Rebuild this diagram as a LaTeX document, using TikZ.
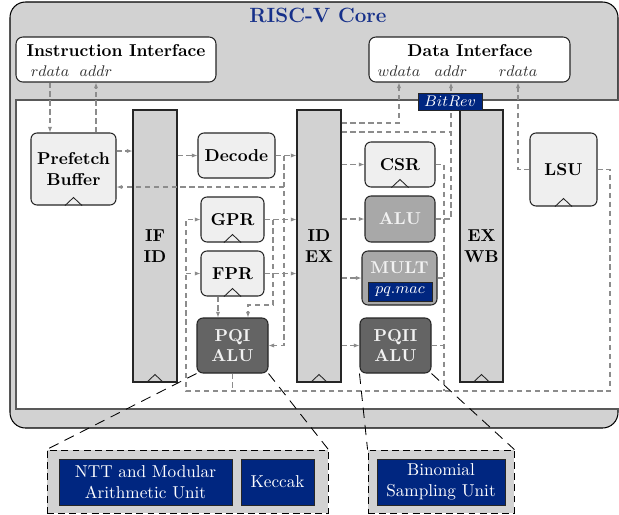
\documentclass[tikz,border=0pt]{standalone}
\usetikzlibrary{arrows.meta}
\definecolor{coregray}{RGB}{210,210,210}
\definecolor{lightbox}{RGB}{239,239,239}
\definecolor{midbox}{RGB}{168,168,168}
\definecolor{darkbox}{RGB}{100,100,100}
\definecolor{pqblue}{RGB}{0,38,128}
\definecolor{titleblue}{RGB}{22,48,138}
\definecolor{wiregray}{RGB}{140,140,140}
\begin{document}
\begin{tikzpicture}[x=0.5814pt,y=-0.5814pt,
  sz/.style 2 args={minimum width={(#1)*0.5814pt}, minimum height={(#2)*0.5814pt}},
  comp/.style={draw=black!85, line width=0.6pt, rounded corners=3.5pt, inner sep=0pt, align=center, font=\bfseries},
  light/.style={comp, fill=lightbox},
  mid/.style={comp, fill=midbox, text=white!95!black},
  dark/.style={comp, fill=darkbox, text=white!95!black},
  preg/.style={draw=black!85, line width=0.6pt, fill=coregray, inner sep=0pt, align=center, font=\bfseries},
  iface/.style={draw=black!85, line width=0.6pt, fill=white, rounded corners=4pt, inner sep=0pt},
  hwblk/.style={draw=black!85, line width=0.5pt, fill=pqblue, text=white, inner sep=0pt, align=center},
  group/.style={draw=black, line width=0.5pt, dash pattern=on 4pt off 2.5pt, fill=coregray, inner sep=0pt},
  wire/.style={draw=wiregray, line width=0.6pt, dash pattern=on 3pt off 2.2pt},
  arr/.style={wire, -{Latex[length=3.3pt,width=2.5pt]}},
  zoomline/.style={draw=black, line width=0.5pt, dash pattern=on 6pt off 4pt},
  clk/.style={draw=black!85, line width=0.5pt},
  sig/.style={font=\small, text=black!80, anchor=base, inner sep=0pt},
]
\useasboundingbox (0,0) rectangle (619,514);

% core frame and pipeline area
\node[draw=black, line width=0.6pt, fill=coregray, rounded corners=9pt, inner sep=0pt, sz={608}{426}] (core) at (314,215) {};
\node[font=\large\bfseries, text=titleblue] (title) at (318,15) {RISC-V Core};
\node[draw=black!65, line width=0.9pt, fill=white, inner sep=0pt, sz={624}{309}] (inner) at (328,254.5) {};

% memory interfaces
\node[iface, sz={200}{45}] (ii) at (116,59.5) {};
\node[font=\bfseries] (iit) at (116,51) {Instruction Interface};
\node[sig] (irdata) at (50,76) {$rdata$};
\node[sig] (iaddr) at (96,76) {$addr$};
\node[iface, sz={201}{45}] (di) at (469.5,59.5) {};
\node[font=\bfseries] (dit) at (470,51) {Data Interface};
\node[sig] (dwdata) at (399,76) {$wdata$};
\node[sig] (daddr) at (451,76) {$addr$};
\node[sig] (drdata) at (518,76) {$rdata$};

% pipeline registers
\node[preg, sz={44}{272}] (ifid) at (155,246) {IF\\ID};
\node[preg, sz={44}{272}] (idex) at (319,246) {ID\\EX};
\node[preg, sz={43}{272}] (exwb) at (481.5,246) {EX\\WB};

% functional blocks
\node[light, sz={85}{72}] (pf) at (73.5,169) {Prefetch\\Buffer};
\node[light, sz={77}{45}] (dec) at (236.5,155.5) {Decode};
\node[light, sz={63}{45}] (gpr) at (232.5,219.5) {GPR};
\node[light, sz={63}{45}] (fpr) at (232.5,273.5) {FPR};
\node[dark, sz={71}{55}] (pqi) at (232.5,345.5) {PQI\\ALU};
\node[light, sz={70}{45}] (csr) at (400,164.5) {CSR};
\node[mid, sz={70}{46}] (alu) at (400,219) {ALU};
\node[mid, sz={75}{54}] (mult) at (399.5,278) {};
\node[font=\bfseries, text=white!95!black] (multt) at (399.5,268) {MULT};
\node[hwblk, sz={64}{19}, font=\small] (pqmac) at (400,291.5) {$pq.mac$};
\node[dark, sz={71}{55}] (pqii) at (395.5,345.5) {PQII\\ALU};
\node[light, sz={67}{73}] (lsu) at (563.5,169.5) {LSU};

% clock marks
\foreach \n in {pf,ifid,gpr,fpr,idex,csr,exwb,lsu}
  \draw[clk] (\n.south) +(-8.5,0) -- +(0,-8) -- +(8.5,0);

% fetch
\draw[arr] (ii.south -| irdata) -- (pf.north -| irdata);
\draw[arr] (pf.north -| iaddr) -- (ii.south -| iaddr);
\draw[arr] (pf.east |- 0,151) -- (ifid.west |- 0,151);
\draw[arr] (ifid.east |- dec.west) -- (dec.west);

% decode
\coordinate (jd) at (284,0);
\draw[arr] (dec.east) -- (idex.west |- dec.east);
\draw[arr] (dec.east -| jd) -- (pqi.east -| jd) -- (pqi.east);
\draw[arr] (jd |- 0,187) -- (pf.east |- 0,187);

% register files
\coordinate (jg) at (273,0);
\draw[arr] (gpr.east) -- (idex.west |- gpr.east);
\draw[arr] (gpr.east -| jg) |- (248,305) -- (pqi.north -| 248,0);
\draw[arr] (fpr.east) -- (idex.west |- fpr.east);
\draw[arr] (fpr.south -| 218,0) -- (pqi.north -| 218,0);

% issue
\draw[arr] (idex.east |- csr.west) -- (csr.west);
\draw[arr] (idex.east |- alu.west) -- (alu.west);
\draw[arr] (idex.east |- mult.west) -- (mult.west);
\draw[arr] (idex.east |- pqii.west) -- (pqii.west);
\draw[arr] (idex.east |- 0,123) -| (di.south -| dwdata);
\draw[wire] (idex.east |- 0,132) -- (daddr |- 0,132);

% execute results
\coordinate (jx) at (444,0);
\draw[wire] (csr.east) -| (jx |- 0,391);
\draw[wire] (mult.east) -- (mult.east -| jx);
\draw[wire] (pqii.east) -- (pqii.east -| jx);
\draw[arr] (alu.east) -| (di.south -| daddr);
\draw[arr] (lsu.west) -| (di.south -| drdata);

% write back
\draw[arr] (lsu.east) -| (610,391) -| (gpr.west -| 186,0) -- (gpr.west);
\draw[arr] (fpr.west -| 186,0) -- (fpr.west);
\draw[wire] (pqi.south) -- (pqi.south |- 0,391);

\node[hwblk, sz={64}{17}, font=\small] (bitrev) at (450,101.5) {$BitRev$};

% accelerator detail
\node[group, sz={281}{63}] (grp1) at (187.5,481.5) {};
\node[group, sz={146}{63}] (grp2) at (441,481.5) {};
\node[hwblk, sz={173}{46}] (ntt) at (145.5,482) {NTT and Modular\\Arithmetic Unit};
\node[hwblk, sz={73}{46}] (keccak) at (277.5,482) {Keccak};
\node[hwblk, sz={128}{46}] (binom) at (441,482) {Binomial\\Sampling Unit};

\draw[zoomline] (pqi.south west) -- (grp1.north west);
\draw[zoomline] (pqi.south east) -- (grp1.north east);
\draw[zoomline] (pqii.south west) -- (grp2.north west);
\draw[zoomline] (pqii.south east) -- (grp2.north east);
\end{tikzpicture}
\end{document}
